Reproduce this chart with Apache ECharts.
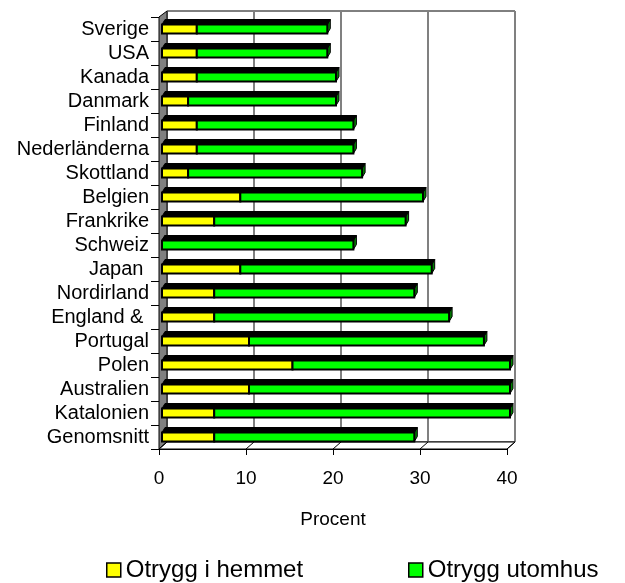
<!DOCTYPE html>
<html>
<head>
<meta charset="utf-8">
<script src="https://cdn.jsdelivr.net/npm/echarts@6/dist/echarts.min.js"></script>
<style>
    html, body { margin: 0; padding: 0; background: #fff; }
    #chart { width: 625px; height: 583px; }
</style>
</head>
<body>
<div id="chart"></div>
<script>
    // länder (uppifrån och ned)
    var countries = ['Sverige', 'USA', 'Kanada', 'Danmark', 'Finland', 'Nederländerna', 'Skottland', 'Belgien',
        'Frankrike', 'Schweiz', 'Japan ', 'Nordirland', 'England & ', 'Portugal', 'Polen', 'Australien',
        'Katalonien', 'Genomsnitt'];
    var hemmet = [4, 4, 4, 3, 4, 4, 3, 9, 6, 0, 9, 6, 6, 10, 15, 10, 6, 6];
    var utomhus = [15, 15, 16, 17, 18, 18, 20, 21, 22, 22, 22, 23, 27, 27, 25, 30, 34, 23];
    var xTicks = [0, 10, 20, 30, 40];

    var font = 'Liberation Sans, Arial, sans-serif';
    var chart = echarts.init(document.getElementById('chart'));

    // golv och vänster vägg (3D-ram)
    var frame = [
        { type: 'polygon', z: 1, shape: { points: [[159, 17], [167, 11], [167, 442], [159, 449]] },
          style: { fill: '#808080', stroke: '#000', lineWidth: 1 } },
        { type: 'polygon', z: 1, shape: { points: [[159, 449], [167, 442], [515, 442], [507, 449]] },
          style: { fill: '#fff', stroke: '#000', lineWidth: 1 } }
    ];
    xTicks.forEach(function (t, i) {
        var x = 159 + i * 87;
        frame.push({ type: 'line', z: 1, shape: { x1: x, y1: 449, x2: x + 8, y2: 442 },
            style: { stroke: '#000', lineWidth: 1 } });
    });

    // stapel med 3D-effekt: framsida, svart ovansida, mörk högersida
    function bar3d(front, side) {
        return function (params, api) {
            var a = api.coord([api.value(1), api.value(0)]);
            var b = api.coord([api.value(2), api.value(0)]);
            var h = 9, dx = 3, dy = 5;
            var x0 = a[0], x1 = b[0], y0 = a[1] - h / 2, y1 = a[1] + h / 2;
            return {
                type: 'group',
                children: [
                    { type: 'polygon', shape: { points: [[x1, y0], [x1 + dx, y0 - dy], [x1 + dx, y1 - dy], [x1, y1]] },
                      style: { fill: side, stroke: '#000', lineWidth: 1 } },
                    { type: 'polygon', shape: { points: [[x0, y0], [x0 + dx, y0 - dy], [x1 + dx, y0 - dy], [x1, y0]] },
                      style: { fill: '#000', stroke: '#000', lineWidth: 1 } },
                    { type: 'rect', shape: { x: x0, y: y0, width: x1 - x0, height: h },
                      style: { fill: front, stroke: '#000', lineWidth: 2 } }
                ]
            };
        };
    }

    var hemData = countries.map(function (c, i) { return [i, 0, hemmet[i]]; });
    var utoData = countries.map(function (c, i) { return [i, hemmet[i], hemmet[i] + utomhus[i]]; });

    var legendBase = {
        padding: 0, icon: 'rect', itemWidth: 14, itemHeight: 14, top: 558,
        itemStyle: { borderColor: '#000', borderWidth: 1.5 },
        textStyle: { fontSize: 24, color: '#000', fontFamily: font }
    };

    chart.setOption({
        animation: false,
        textStyle: { fontFamily: font },
        graphic: frame,
        grid: [
            { left: 167, top: 11, width: 348, height: 431, show: true, borderColor: '#000', borderWidth: 1 },
            { left: 159, top: 17, width: 348, height: 432 },
            { left: 162, top: 17, width: 348, height: 432 }
        ],
        xAxis: [
            { gridIndex: 0, type: 'value', min: 0, max: 40, interval: 10,
              axisLine: { show: false }, axisTick: { show: false }, axisLabel: { show: false },
              splitLine: { show: true, lineStyle: { color: '#808080', width: 2 } } },
            { gridIndex: 1, type: 'value', min: 0, max: 40, interval: 10,
              name: 'Procent', nameLocation: 'middle', nameGap: 61,
              nameTextStyle: { fontSize: 19, color: '#000', fontFamily: font },
              axisLine: { show: true, lineStyle: { color: '#000', width: 1 } },
              axisTick: { show: true, length: 6, lineStyle: { color: '#000' } },
              axisLabel: { fontSize: 19, color: '#000', margin: 20, fontFamily: font },
              splitLine: { show: false } },
            { gridIndex: 2, type: 'value', min: 0, max: 40, show: false, splitLine: { show: false } }
        ],
        yAxis: [
            { gridIndex: 0, type: 'category', data: countries, inverse: true, show: false },
            { gridIndex: 1, type: 'category', data: countries, inverse: true,
              axisLine: { show: true, lineStyle: { color: '#000', width: 1 } },
              axisTick: { show: true, length: 8, lineStyle: { color: '#000' } },
              axisLabel: { fontSize: 20, color: '#000', margin: 10, interval: 0, fontFamily: font },
              splitLine: { show: false } },
            { gridIndex: 2, type: 'category', data: countries, inverse: true, show: false }
        ],
        legend: [
            Object.assign({ data: ['Otrygg i hemmet'], left: 106 }, legendBase),
            Object.assign({ data: ['Otrygg utomhus'], left: 408 }, legendBase)
        ],
        series: [
            { name: 'Otrygg i hemmet', type: 'custom', xAxisIndex: 2, yAxisIndex: 2, z: 3,
              itemStyle: { color: '#ffff00' }, encode: { x: [1, 2], y: 0 },
              renderItem: bar3d('#ffff00', '#808000'), data: hemData },
            { name: 'Otrygg utomhus', type: 'custom', xAxisIndex: 2, yAxisIndex: 2, z: 4,
              itemStyle: { color: '#00ff00' }, encode: { x: [1, 2], y: 0 },
              renderItem: bar3d('#00ff00', '#008000'), data: utoData }
        ]
    });
</script>
</body>
</html>
